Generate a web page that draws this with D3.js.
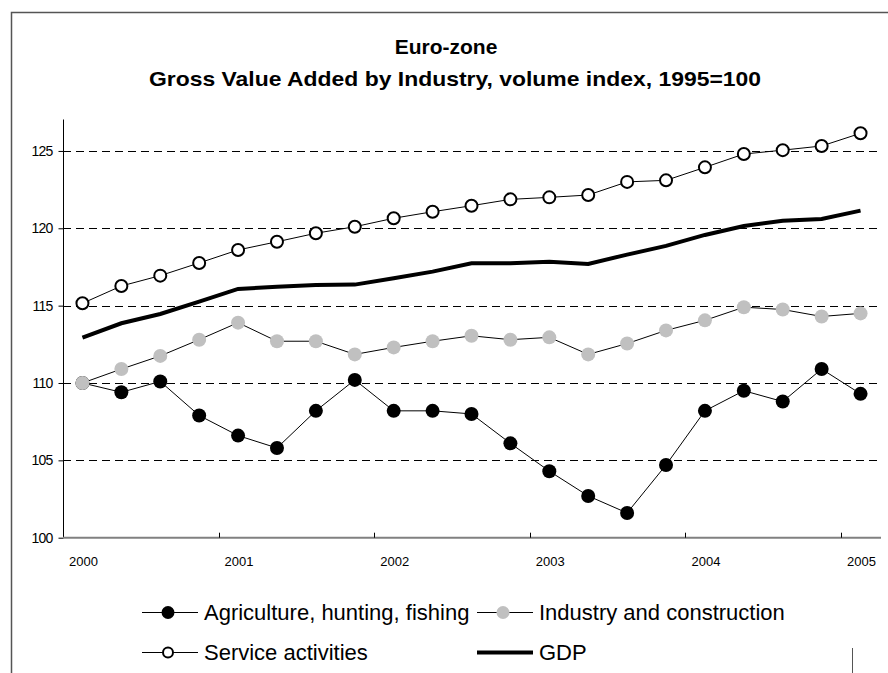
<!DOCTYPE html>
<html><head><meta charset="utf-8">
<script src="https://cdn.jsdelivr.net/npm/d3@7"></script>
<style>body{margin:0;background:#fff}svg{display:block;font-family:"Liberation Sans",Arial,sans-serif}</style>
</head><body><svg id="c" width="888" height="673"></svg>
<script>
const quarters = ["2000Q1","2000Q2","2000Q3","2000Q4","2001Q1","2001Q2","2001Q3","2001Q4","2002Q1","2002Q2","2002Q3","2002Q4","2003Q1","2003Q2","2003Q3","2003Q4","2004Q1","2004Q2","2004Q3","2004Q4","2005Q1"];
const yearLabels = ["2000","2001","2002","2003","2004","2005"];
const yTicks = [100,105,110,115,120,125];
const agriculture = [110.0,109.4,110.1,107.9,106.6,105.8,108.2,110.2,108.2,108.2,108.0,106.1,104.3,102.7,101.6,104.7,108.2,109.5,108.8,110.9,109.3];
const industry = [110.0,110.9,111.75,112.8,113.9,112.7,112.7,111.85,112.3,112.7,113.05,112.8,112.95,111.85,112.55,113.4,114.05,114.9,114.75,114.3,114.5];
const services = [115.15,116.27,116.94,117.76,118.6,119.13,119.68,120.1,120.65,121.07,121.46,121.87,122.0,122.15,123.0,123.1,123.94,124.8,125.05,125.32,126.14];
const gdp = [112.93,113.86,114.46,115.26,116.08,116.22,116.33,116.36,116.77,117.2,117.74,117.74,117.84,117.69,118.3,118.86,119.57,120.15,120.49,120.6,121.14];
const seriesNames = ["Agriculture, hunting, fishing","Industry and construction","Service activities","GDP"];

const svg = d3.select("#c");
// frame
svg.append("path").attr("d","M11.5,673 V12.5 H888").attr("fill","none").attr("stroke","#555").attr("stroke-width",1.5);
svg.append("line").attr("x1",852.5).attr("x2",852.5).attr("y1",648).attr("y2",673).attr("stroke","#555").attr("stroke-width",1);

// title
svg.append("text").attr("x",446).attr("y",54).attr("text-anchor","middle").attr("font-weight","bold").attr("font-size",21).text("Euro-zone");
svg.append("text").attr("x",455).attr("y",86).attr("text-anchor","middle").attr("font-weight","bold").attr("font-size",21)
  .attr("textLength",612).attr("lengthAdjust","spacingAndGlyphs").text("Gross Value Added by Industry, volume index, 1995=100");

const x = d3.scaleBand().domain(quarters).range([63,880]);
const y = d3.scaleLinear().domain([100,127]).range([537.7,120]);
const cx = q => x(q) + x.bandwidth()/2;

// gridlines
svg.append("g").selectAll("line").data(yTicks.filter(v=>v>100)).join("line")
  .attr("x1",63).attr("x2",880).attr("y1",d=>Math.round(y(d))+0.5).attr("y2",d=>Math.round(y(d))+0.5)
  .attr("stroke","#000").attr("stroke-width",1).attr("stroke-dasharray","8,5");

// y axis
const ya = svg.append("g").attr("transform","translate(63.5,0)")
  .call(d3.axisLeft(y).tickValues(yTicks).tickSize(5).tickPadding(6).tickFormat(d3.format("d")));
ya.select(".domain").attr("d","M0,119.5V"+y(100)).attr("stroke","#000");
ya.selectAll(".tick line").attr("stroke","#000");
ya.selectAll(".tick text").attr("font-size",14).attr("font-family","Liberation Sans, Arial").attr("letter-spacing","-0.8px").attr("fill","#000");

// x axis
const xa = svg.append("g").attr("transform","translate(0,"+(y(100))+")");
xa.append("line").attr("x1",63).attr("x2",881).attr("y1",0).attr("y2",0).attr("stroke","#808080").attr("stroke-width",2);
const tickQ = quarters.filter((q,i)=>i%4===0);
xa.selectAll("line.tk").data(tickQ.slice(1)).join("line").attr("class","tk")
  .attr("x1",d=>Math.round(x(d))+0.5).attr("x2",d=>Math.round(x(d))+0.5).attr("y1",-5).attr("y2",0).attr("stroke","#000");
xa.selectAll("text").data(tickQ).join("text")
  .attr("x",d=>cx(d)+1).attr("y",28).attr("text-anchor","middle").attr("font-size",13).text((d,i)=>yearLabels[i]);

const line = d3.line().x((d,i)=>cx(quarters[i])).y(d=>y(d));

// GDP
svg.append("path").datum(gdp).attr("d",line).attr("fill","none").attr("stroke","#000").attr("stroke-width",4);
// services
svg.append("path").datum(services).attr("d",line).attr("fill","none").attr("stroke","#000").attr("stroke-width",1);
svg.append("g").selectAll("circle").data(services).join("circle")
  .attr("cx",(d,i)=>cx(quarters[i])).attr("cy",d=>y(d)).attr("r",6).attr("fill","#fff").attr("stroke","#000").attr("stroke-width",2);
// agriculture
svg.append("path").datum(agriculture).attr("d",line).attr("fill","none").attr("stroke","#000").attr("stroke-width",1);
svg.append("g").selectAll("circle").data(agriculture).join("circle")
  .attr("cx",(d,i)=>cx(quarters[i])).attr("cy",d=>y(d)).attr("r",7).attr("fill","#000");
// industry
svg.append("path").datum(industry).attr("d",line).attr("fill","none").attr("stroke","#000").attr("stroke-width",1);
svg.append("g").selectAll("circle").data(industry).join("circle")
  .attr("cx",(d,i)=>cx(quarters[i])).attr("cy",d=>y(d)).attr("r",7).attr("fill","#c0c0c0");

// legend
const leg = [
  {name:seriesNames[0], x:142, y:612, type:"agri"},
  {name:seriesNames[1], x:477, y:612, type:"ind"},
  {name:seriesNames[2], x:142, y:652, type:"serv"},
  {name:seriesNames[3], x:477, y:652, type:"gdp"}
];
const lg = svg.append("g").selectAll("g").data(leg).join("g").attr("transform",d=>`translate(${d.x},${d.y})`);
lg.append("line").attr("x1",0).attr("x2",56).attr("y1",0.5).attr("y2",0.5).attr("stroke","#000").attr("stroke-width",d=>d.type==="gdp"?4:1);
lg.filter(d=>d.type!=="gdp").append("circle").attr("cx",26).attr("cy",0.5)
  .attr("r",d=>d.type==="serv"?5:6.5)
  .attr("fill",d=>d.type==="agri"?"#000":d.type==="ind"?"#c0c0c0":"#fff")
  .attr("stroke",d=>d.type==="serv"?"#000":"none").attr("stroke-width",2);
lg.append("text").attr("x",62).attr("y",8).attr("font-size",22).attr("fill","#000").text(d=>d.name);
</script></body></html>
